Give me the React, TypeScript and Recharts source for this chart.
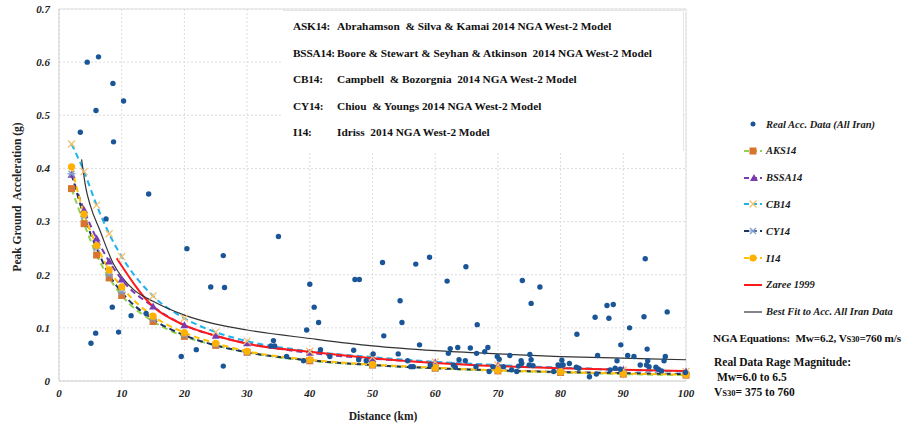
import React from "react";
import {
  ComposedChart,
  Line,
  Scatter,
  XAxis,
  YAxis,
  CartesianGrid,
  ReferenceLine,
} from "recharts";

// distances (km) where the NGA model curves are sampled
const modelDist = [2, 4, 6, 8, 10, 15, 20, 25, 30, 40, 50, 60, 70, 80, 90, 100];
const ask14 = [0.362, 0.296, 0.237, 0.194, 0.161, 0.112, 0.084, 0.067, 0.054, 0.038, 0.030, 0.024, 0.019, 0.016, 0.013, 0.011];
const bssa14 = [0.388, 0.322, 0.268, 0.225, 0.191, 0.140, 0.105, 0.085, 0.071, 0.053, 0.042, 0.035, 0.029, 0.025, 0.021, 0.018];
const cb14 = [0.446, 0.394, 0.331, 0.277, 0.234, 0.160, 0.118, 0.092, 0.075, 0.056, 0.045, 0.036, 0.030, 0.025, 0.021, 0.018];
const cy14 = [0.390, 0.310, 0.250, 0.200, 0.167, 0.116, 0.086, 0.067, 0.054, 0.039, 0.030, 0.024, 0.020, 0.017, 0.015, 0.013];
const i14 = [0.403, 0.314, 0.255, 0.209, 0.177, 0.122, 0.091, 0.071, 0.056, 0.040, 0.031, 0.025, 0.020, 0.017, 0.014, 0.012];

const zareeDist = [9.2, 15, 20, 25, 30, 40, 50, 60, 70, 80, 90, 100];
const zaree = [0.231, 0.140, 0.105, 0.085, 0.070, 0.055, 0.043, 0.034, 0.028, 0.024, 0.021, 0.019];

const fitDist = [3.6, 4.3, 5, 6.5, 8.7, 10, 11.9, 15, 20, 25, 30, 40, 50, 60, 70, 80, 90, 100];
const bestFit = [0.417, 0.362, 0.330, 0.284, 0.220, 0.196, 0.172, 0.150, 0.124, 0.107, 0.096, 0.080, 0.066, 0.057, 0.051, 0.046, 0.043, 0.040];

// real acceleration records (distance km, PGA g)
const realDist = [
  4.5, 6.3, 8.6, 10.3, 5.9, 3.4, 8.7, 14.3, 7.5, 20.4,
  8.5, 11.5, 5.85, 5.1, 9.5, 19.5, 13.9,
  26.2, 24.2, 26.4, 21.9, 26.2, 35.0, 34.2, 33.8, 34.4, 36.3, 39.0,
  40.0, 40.7, 41.4, 39.5, 41.7, 43.2,
  47.2, 47.9, 51.6, 56.9, 59.1, 64.9, 61.9, 54.4, 54.7, 66.7, 51.8, 57.5, 47.0, 50.1, 54.1, 62.1,
  62.4, 63.6, 65.6, 68.4, 67.9, 66.6, 47.8, 49.0, 55.6, 63.8, 64.8, 56.1, 56.5, 59.2, 62.9, 63.2,
  66.5, 69.9, 70.2, 71.9, 69.2, 70.9, 68.6, 72.2, 73.0,
  73.9, 76.7, 75.3, 93.5, 87.4, 88.4, 87.7, 85.5, 93.3, 97.0, 91.0, 82.6, 89.6, 93.8, 85.9,
  90.7, 91.7, 96.7, 75.1, 73.7, 73.8, 75.3, 80.2, 89.0, 93.9, 96.5, 81.4, 73.3, 75.0, 75.6,
  79.6, 79.9, 80.4, 82.5, 82.9, 87.9, 88.7, 89.5, 92.7, 93.7, 94.1, 95.2, 95.6, 96.1, 78.9,
  84.6, 85.7, 99.9,
];
const realPga = [
  0.600, 0.610, 0.560, 0.527, 0.509, 0.468, 0.450, 0.352, 0.305, 0.249,
  0.139, 0.123, 0.090, 0.071, 0.092, 0.046, 0.127,
  0.236, 0.177, 0.176, 0.059, 0.028, 0.272, 0.076, 0.066, 0.066, 0.046, 0.038,
  0.182, 0.139, 0.110, 0.096, 0.059, 0.046,
  0.191, 0.191, 0.223, 0.220, 0.233, 0.215, 0.188, 0.151, 0.110, 0.106, 0.085, 0.068, 0.058, 0.051, 0.051, 0.052,
  0.061, 0.063, 0.062, 0.063, 0.055, 0.052, 0.040, 0.038, 0.038, 0.040, 0.038, 0.027, 0.027, 0.030, 0.030, 0.026,
  0.027, 0.046, 0.041, 0.048, 0.027, 0.027, 0.018, 0.021, 0.018,
  0.189, 0.177, 0.146, 0.230, 0.142, 0.144, 0.118, 0.120, 0.121, 0.130, 0.100, 0.088, 0.068, 0.060, 0.048,
  0.048, 0.046, 0.046, 0.050, 0.038, 0.033, 0.040, 0.039, 0.038, 0.038, 0.038, 0.033, 0.028, 0.030, 0.029,
  0.030, 0.029, 0.030, 0.026, 0.024, 0.021, 0.024, 0.022, 0.030, 0.030, 0.027, 0.026, 0.022, 0.019, 0.018,
  0.008, 0.013, 0.016,
];

const xTicks = [0, 10, 20, 30, 40, 50, 60, 70, 80, 90, 100];
const yTicks = [0, 0.1, 0.2, 0.3, 0.4, 0.5, 0.6, 0.7];

const modelNotes = [
  ["ASK14:", "Abrahamson  & Silva & Kamai 2014 NGA West-2 Model"],
  ["BSSA14:", "Boore & Stewart & Seyhan & Atkinson  2014 NGA West-2 Model"],
  ["CB14:", "Campbell  & Bozorgnia  2014 NGA West-2 Model"],
  ["CY14:", "Chiou  & Youngs 2014 NGA West-2 Model"],
  ["I14:", "Idriss  2014 NGA West-2 Model"],
];

const zip = (xs: number[], ys: number[]) => xs.map((d, i) => ({ d, v: ys[i] }));

const colors = {
  real: "#1a5597",
  askLine: "#92D050",
  askMark: "#D7742F",
  bssa: "#7A3DB0",
  cbLine: "#1EB4EE",
  cbMark: "#F0C070",
  cyLine: "#1F3466",
  cyMark: "#7F9CCB",
  i14Line: "#FFC000",
  i14Mark: "#FFB000",
  zaree: "#FF1A1A",
  fit: "#333333",
};

// marker shapes
const Square = ({ cx, cy, fill }: any) => (
  <rect x={cx - 3.5} y={cy - 3.5} width={7} height={7} fill={fill} />
);
const Tri = ({ cx, cy, fill }: any) => (
  <polygon points={`${cx},${cy - 4} ${cx + 4},${cy + 3} ${cx - 4},${cy + 3}`} fill={fill} />
);
const Cross = ({ cx, cy, fill }: any) => (
  <g stroke={fill} strokeWidth={1.3}>
    <line x1={cx - 3.5} y1={cy - 3.5} x2={cx + 3.5} y2={cy + 3.5} />
    <line x1={cx - 3.5} y1={cy + 3.5} x2={cx + 3.5} y2={cy - 3.5} />
  </g>
);
const Star = ({ cx, cy, fill }: any) => (
  <g stroke={fill} strokeWidth={1.2}>
    <line x1={cx - 4} y1={cy} x2={cx + 4} y2={cy} />
    <line x1={cx - 3} y1={cy - 3} x2={cx + 3} y2={cy + 3} />
    <line x1={cx - 3} y1={cy + 3} x2={cx + 3} y2={cy - 3} />
  </g>
);
const Circ = ({ cx, cy, fill }: any) => <circle cx={cx} cy={cy} r={3.6} fill={fill} />;

const dotOf = (Shape: any, fill: string, tag: string) => (props: any) => {
  if (props.cx == null || props.cy == null) return <g key={`${tag}-${props.index}`} />;
  return (
    <g key={`${tag}-${props.index}`}>
      <Shape cx={props.cx} cy={props.cy} fill={fill} />
    </g>
  );
};

const RealDot = (props: any) => <circle cx={props.cx} cy={props.cy} r={2.7} fill={colors.real} />;

const legendItems = [
  { label: "Real Acc. Data (All Iran)", line: null, dash: "", shape: null },
  { label: "AKS14", line: colors.askLine, dash: "5 3", shape: <Square cx={9} cy={5} fill={colors.askMark} /> },
  { label: "BSSA14", line: colors.bssa, dash: "5 3", shape: <Tri cx={10} cy={5} fill={colors.bssa} /> },
  { label: "CB14", line: colors.cbLine, dash: "5 3", shape: <Cross cx={9} cy={5} fill={colors.cbMark} /> },
  { label: "CY14", line: colors.cyLine, dash: "5 3", shape: <Star cx={9} cy={5} fill={colors.cyMark} /> },
  { label: "I14", line: colors.i14Line, dash: "5 3", shape: <Circ cx={9} cy={5} fill={colors.i14Mark} /> },
  { label: "Zaree 1999", line: colors.zaree, dash: "", shape: null },
  { label: "Best Fit to Acc. All Iran Data", line: colors.fit, dash: "", shape: null },
];

const tickStyle = {
  fontFamily: "Liberation Serif",
  fontWeight: 700,
  fontStyle: "italic",
  fontSize: 11,
  fill: "#222",
};

export default function App() {
  const serif = "Liberation Serif";
  return (
    <div style={{ position: "relative", width: 910, height: 425, background: "#fff", fontFamily: serif, overflow: "hidden" }}>
      <style>{"body{margin:0}"}</style>
      <ComposedChart
        width={910}
        height={425}
        margin={{ top: 9, right: 224, bottom: 18, left: 19 }}
      >
        <CartesianGrid stroke="#dcdcdc" strokeDasharray="2 2" />
        <XAxis
          type="number"
          dataKey="d"
          domain={[0, 100]}
          ticks={xTicks}
          height={26}
          tickSize={0}
          tickMargin={8}
          axisLine={{ stroke: "#d0d0d0" }}
          tick={tickStyle}
        />
        <YAxis
          type="number"
          dataKey="v"
          domain={[0, 0.7]}
          ticks={yTicks}
          width={40}
          tickSize={0}
          tickMargin={9}
          axisLine={{ stroke: "#d0d0d0" }}
          tick={tickStyle}
          tickFormatter={(v) => (v === 0 ? "0" : String(v))}
        />
        <ReferenceLine y={0.7} stroke="#e0e0e0" />
        <ReferenceLine x={100} stroke="#e0e0e0" />
        <Line
          data={zip(modelDist, ask14)}
          dataKey="v"
          type="monotone"
          stroke={colors.askLine}
          strokeWidth={2}
          strokeDasharray="6 4"
          dot={dotOf(Square, colors.askMark, "ask")}
          isAnimationActive={false}
        />
        <Line
          data={zip(modelDist, bssa14)}
          dataKey="v"
          type="monotone"
          stroke={colors.bssa}
          strokeWidth={2}
          strokeDasharray="6 4"
          dot={dotOf(Tri, colors.bssa, "bssa")}
          isAnimationActive={false}
        />
        <Line
          data={zip(modelDist, cb14)}
          dataKey="v"
          type="monotone"
          stroke={colors.cbLine}
          strokeWidth={2}
          strokeDasharray="6 4"
          dot={dotOf(Cross, colors.cbMark, "cb")}
          isAnimationActive={false}
        />
        <Line
          data={zip(modelDist, cy14)}
          dataKey="v"
          type="monotone"
          stroke={colors.cyLine}
          strokeWidth={2}
          strokeDasharray="6 4"
          dot={dotOf(Star, colors.cyMark, "cy")}
          isAnimationActive={false}
        />
        <Line
          data={zip(modelDist, i14)}
          dataKey="v"
          type="monotone"
          stroke={colors.i14Line}
          strokeWidth={2}
          strokeDasharray="6 4"
          dot={dotOf(Circ, colors.i14Mark, "i14")}
          isAnimationActive={false}
        />
        <Line
          data={zip(zareeDist, zaree)}
          dataKey="v"
          type="monotone"
          stroke={colors.zaree}
          strokeWidth={2}
          dot={false}
          isAnimationActive={false}
        />
        <Line
          data={zip(fitDist, bestFit)}
          dataKey="v"
          type="monotone"
          stroke={colors.fit}
          strokeWidth={1.2}
          dot={false}
          isAnimationActive={false}
        />
        <Scatter
          data={zip(realDist, realPga)}
          dataKey="v"
          fill={colors.real}
          shape={RealDot}
          isAnimationActive={false}
        />
      </ComposedChart>

      {/* y axis title */}
      <div
        style={{
          position: "absolute",
          left: 17,
          top: 197,
          transform: "translate(-50%, -50%) rotate(-90deg)",
          whiteSpace: "nowrap",
          fontWeight: 700,
          fontSize: 11.5,
          color: "#222",
        }}
      >
        Peak Ground&nbsp; Acceleration (g)
      </div>
      {/* x axis title */}
      <div
        style={{
          position: "absolute",
          left: 383,
          top: 416,
          transform: "translate(-50%, -50%)",
          whiteSpace: "nowrap",
          fontWeight: 700,
          fontSize: 11.5,
          color: "#222",
        }}
      >
        Distance (km)
      </div>

      {/* model abbreviations box */}
      <div
        style={{
          position: "absolute",
          left: 283,
          top: 10,
          width: 400,
          height: 140,
          background: "#fff",
          borderRight: "1px solid #e6e6e6",
          borderTop: "1px solid #e6e6e6",
        }}
      >
        {modelNotes.map(([k, t], i) => (
          <div
            key={k}
            style={{
              position: "absolute",
              left: 10,
              top: 15 + i * 26.5 - 8,
              fontSize: 11.3,
              fontWeight: 700,
              color: "#111",
              whiteSpace: "pre",
              lineHeight: "16px",
            }}
          >
            <span style={{ display: "inline-block", width: 44, letterSpacing: -0.2 }}>{k}</span>
            {t}
          </div>
        ))}
      </div>

      {/* legend */}
      {legendItems.map((it, i) => (
        <div
          key={it.label}
          style={{
            position: "absolute",
            left: 743,
            top: 124 + i * 26.8 - 8,
            height: 16,
            display: "flex",
            alignItems: "center",
            whiteSpace: "nowrap",
          }}
        >
          <svg width={20} height={10} style={{ marginRight: 3 }}>
            {it.line ? (
              <line
                x1={1}
                y1={5}
                x2={19}
                y2={5}
                stroke={it.line}
                strokeWidth={it.line === colors.fit ? 1.2 : 2}
                strokeDasharray={it.dash}
              />
            ) : (
              <circle cx={10} cy={5} r={2.5} fill={colors.real} />
            )}
            {it.shape ? <g transform="translate(1,0)">{it.shape}</g> : null}
          </svg>
          <span style={{ fontStyle: "italic", fontWeight: 700, fontSize: 10.5, color: "#1a1a1a" }}>
            {it.label}
          </span>
        </div>
      ))}

      {/* notes */}
      <div
        style={{
          position: "absolute",
          left: 713,
          top: 330,
          fontWeight: 700,
          fontSize: 11.2,
          letterSpacing: -0.15,
          color: "#111",
          whiteSpace: "nowrap",
          lineHeight: "16px",
        }}
      >
        NGA Equations:&nbsp; Mw=6.2, V<span style={{ fontSize: 8.5 }}>S30</span>=760 m/s
      </div>
      <div
        style={{
          position: "absolute",
          left: 714,
          top: 355,
          fontWeight: 700,
          fontSize: 11.5,
          color: "#111",
          whiteSpace: "nowrap",
          lineHeight: "15px",
        }}
      >
        <div>Real Data Rage Magnitude:</div>
        <div>&nbsp;Mw=6.0 to 6.5</div>
        <div>
          V<span style={{ fontSize: 8.5 }}>S30</span>= 375 to 760
        </div>
      </div>
    </div>
  );
}
